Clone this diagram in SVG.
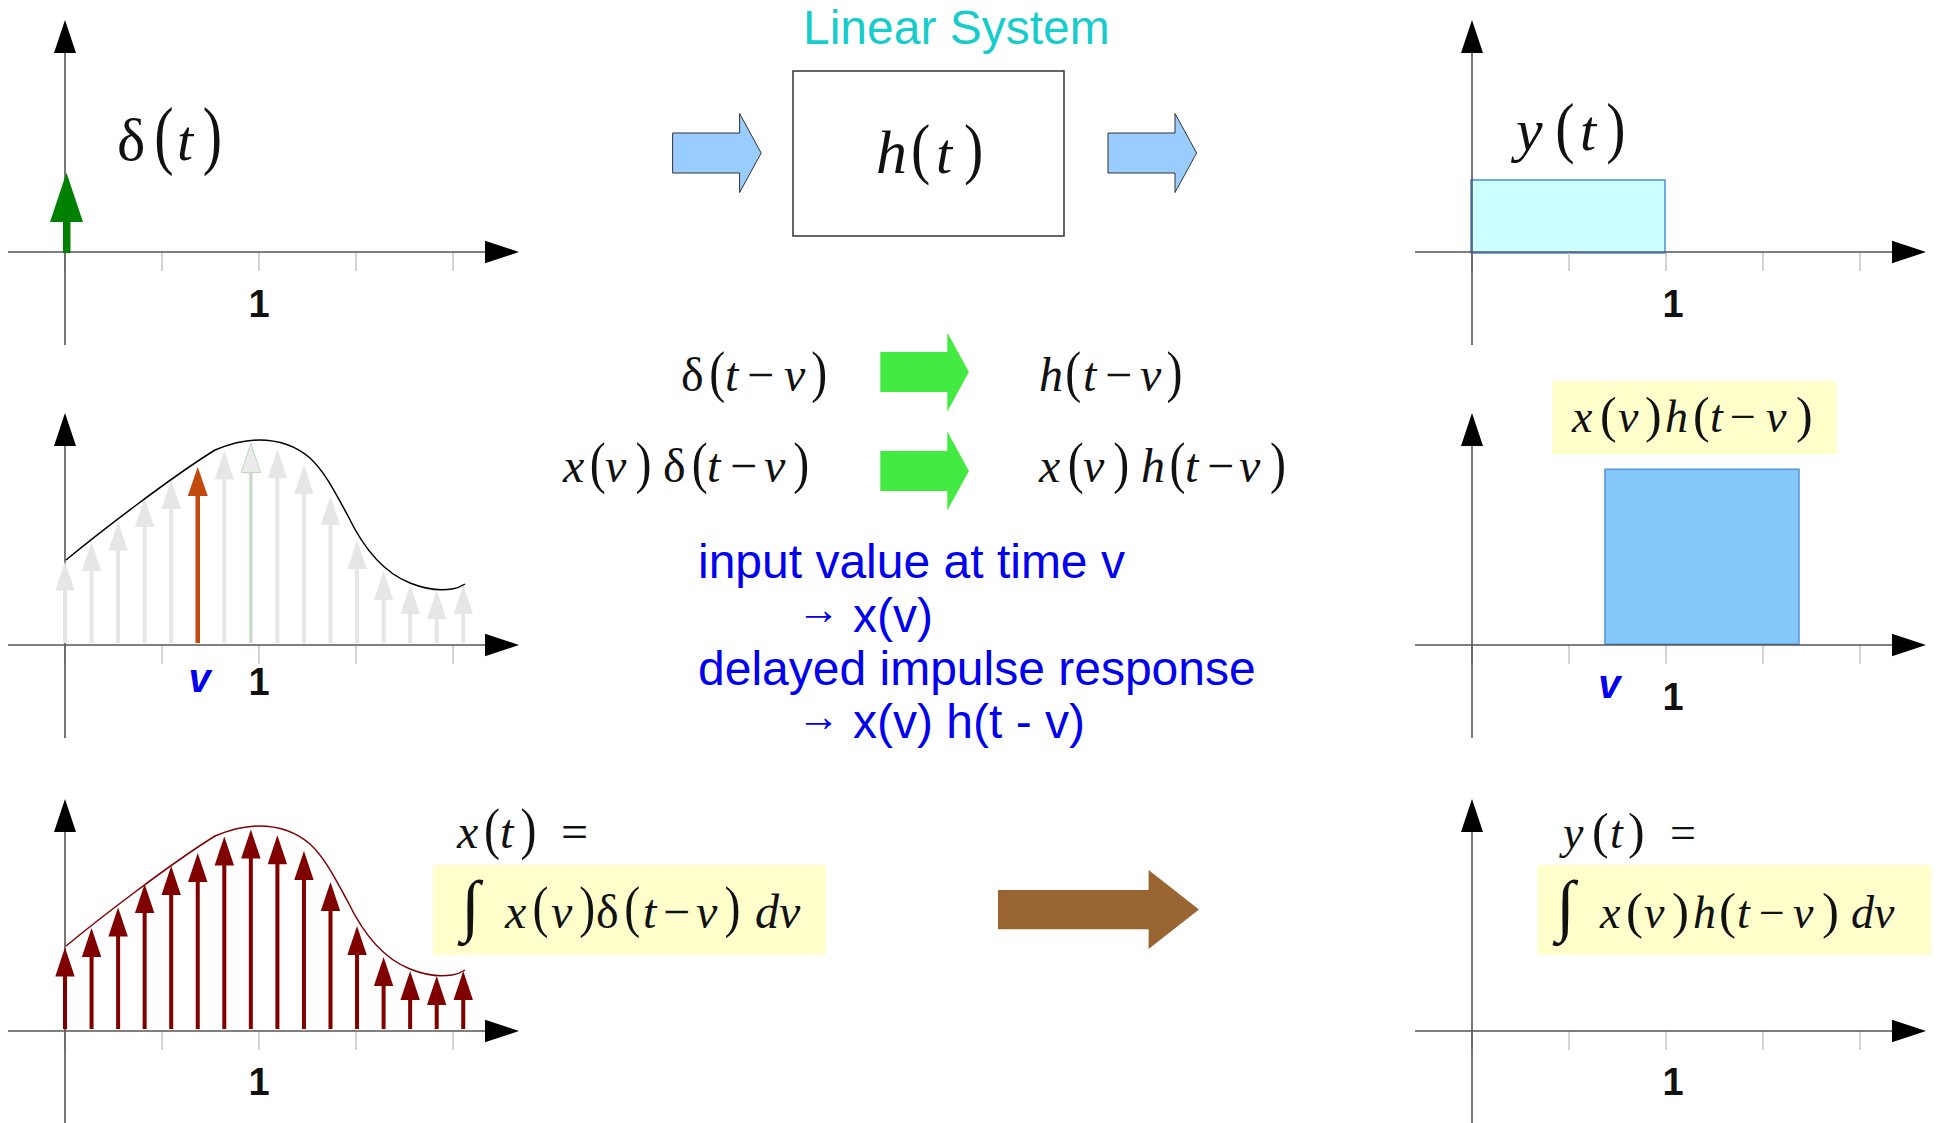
<svg xmlns="http://www.w3.org/2000/svg" xmlns:xlink="http://www.w3.org/1999/xlink" width="1939" height="1123" viewBox="0 0 1939 1123">
<style>
.ax{stroke:#555;stroke-width:1.6;fill:none}
.tk{stroke:#c8c8c8;stroke-width:1.6}
.ah{fill:#000}
.num{font-family:"Liberation Sans",Arial,sans-serif;font-weight:bold;font-size:38px;fill:#111;text-anchor:middle}
.vl{font-family:"Liberation Sans",Arial,sans-serif;font-weight:bold;font-style:italic;font-size:40px;fill:#0000ee;text-anchor:middle}
.m{font-family:"Liberation Serif","Times New Roman",serif;fill:#111}
.i{font-style:italic}
.blue{font-family:"Liberation Sans",Arial,sans-serif;font-size:48px;fill:#0000ee}
.ybox{fill:#ffffcc}
</style>
<defs>
  <g id="axes">
    <line class="tk" x1="0" y1="0" x2="0" y2="19"/>
    <line class="tk" x1="97" y1="0" x2="97" y2="19"/>
    <line class="tk" x1="194" y1="0" x2="194" y2="19"/>
    <line class="tk" x1="291" y1="0" x2="291" y2="19"/>
    <line class="tk" x1="388" y1="0" x2="388" y2="19"/>
    <line class="ax" x1="-57" y1="0" x2="422" y2="0"/>
    <polygon class="ah" points="420,-11.3 454,0 420,11.3"/>
    <line class="ax" x1="0" y1="93" x2="0" y2="-201"/>
    <polygon class="ah" points="-11,-199 0,-232 11,-199"/>
  </g>
  <path id="hd" stroke="none" d="M-9.7,29 L0,0 L9.7,29 Z"/>
  <path id="bar" d="M0,-20 H67 V-39.5 L88.6,0 L67,39.5 V20 H0 Z"/>
  <path id="curve" fill="none" stroke-width="1.5" d="M66,560 C100,532 170,478 215,450 C232,443 245,440 259,440 C280,440 296,446 310,458 C325,472 335,492 348,516 C362,545 382,572 410,583 C425,589 440,591 452,589 C458,588 462,586 465,584"/>
  <g id="spikes">
    <path fill="none" stroke-width="4" d="M65,643V589.5 M91.55,643V570 M118.1,643V549.5 M144.65,643V526 M171.2,643V508 M197.75,643V495 M224.3,643V478.5 M250.85,643V471.5 M277.4,643V477.3 M303.95,643V493 M330.5,643V524 M357.05,643V568 M383.6,643V599 M410.15,643V613 M436.7,643V618 M463.25,643V613"/>
    <use xlink:href="#hd" x="65" y="561.5"/>
    <use xlink:href="#hd" x="91.55" y="542"/>
    <use xlink:href="#hd" x="118.1" y="521.5"/>
    <use xlink:href="#hd" x="144.65" y="498"/>
    <use xlink:href="#hd" x="171.2" y="480"/>
    <use xlink:href="#hd" x="197.75" y="467"/>
    <use xlink:href="#hd" x="224.3" y="450.5"/>
    <use xlink:href="#hd" x="250.85" y="443.5"/>
    <use xlink:href="#hd" x="277.4" y="449.3"/>
    <use xlink:href="#hd" x="303.95" y="465"/>
    <use xlink:href="#hd" x="330.5" y="496"/>
    <use xlink:href="#hd" x="357.05" y="540"/>
    <use xlink:href="#hd" x="383.6" y="571"/>
    <use xlink:href="#hd" x="410.15" y="585"/>
    <use xlink:href="#hd" x="436.7" y="590"/>
    <use xlink:href="#hd" x="463.25" y="585"/>
  </g>
</defs>
<rect width="1939" height="1123" fill="#fff"/>

<g id="title">
  <text x="803" y="44" font-family="Liberation Sans, Arial, sans-serif" font-size="48" fill="#19cccc">Linear System</text>
</g>

<!-- Row 1 left: impulse -->
<g id="plot-impulse">
  <use xlink:href="#axes" x="65" y="252"/>
  <rect x="63" y="221" width="7.5" height="32" fill="#008000"/>
  <polygon points="50,222 66.5,172.7 83,222" fill="#008000"/>
  <text class="m" y="160"><tspan x="117" font-size="60">δ</tspan><tspan x="177" class="i" font-size="58">t</tspan></text>
  <text class="m" font-size="58" transform="translate(154.2,160) scale(1,1.295)">(</text>
  <text class="m" font-size="58" transform="translate(202.8,160) scale(1,1.295)">)</text>
  <text class="num" x="259" y="317">1</text>
</g>

<!-- System box -->
<g id="system">
  <rect x="793" y="71" width="271" height="165" fill="#fff" stroke="#333" stroke-width="1.5"/>
  <text class="m" y="173"><tspan x="876" class="i" font-size="62">h</tspan><tspan x="936" class="i" font-size="58">t</tspan></text>
  <text class="m" font-size="58" transform="translate(911,171) scale(1,1.17)">(</text>
  <text class="m" font-size="58" transform="translate(963.9,171) scale(1,1.17)">)</text>
</g>

<!-- Row 1 right: response -->
<g id="plot-response">
  <rect x="1471" y="180" width="194" height="73" fill="#ccffff" stroke="#4a90d9" stroke-width="1.5"/>
  <use xlink:href="#axes" x="1472" y="252"/>
  <text class="m" y="150"><tspan x="1516" class="i" font-size="60">y</tspan><tspan x="1580" class="i" font-size="58">t</tspan></text>
  <text class="m" font-size="58" transform="translate(1555.2,150) scale(1,1.17)">(</text>
  <text class="m" font-size="58" transform="translate(1606.3,150) scale(1,1.17)">)</text>
  <text class="num" x="1673" y="317">1</text>
</g>

<!-- Row 2 left: sampled input -->
<g id="plot-input-sample">
  <use xlink:href="#axes" x="65" y="645"/>
  <use xlink:href="#spikes" fill="#e6e6e6" stroke="#e6e6e6"/>
  <line x1="250.85" y1="643" x2="250.85" y2="471.5" stroke="#c3dcc3" stroke-width="2.5"/>
  <polygon points="241.15,472.5 250.85,443.5 260.55,472.5" fill="#ebebeb" stroke="#b5dcb5" stroke-width="1"/>
  <line x1="197.75" y1="643" x2="197.75" y2="495" stroke="#c24a0e" stroke-width="4.5"/>
  <polygon points="187.75,496 197.75,467 207.75,496" fill="#c24a0e"/>
  <use xlink:href="#curve" stroke="#000"/>
  <text class="vl" x="199.5" y="691.7">v</text>
  <text class="num" x="259" y="695">1</text>
</g>

<!-- Middle mapping text -->
<g id="mapping">
  <g font-size="48">
    <text class="m" y="390.7"><tspan x="681">δ</tspan><tspan x="725" class="i">t</tspan><tspan x="747">−</tspan><tspan x="784" class="i">v</tspan></text>
    <text class="m" transform="translate(709.3,390.7) scale(1,1.185)">(</text>
    <text class="m" transform="translate(811.2,390.7) scale(1,1.185)">)</text>
    <text class="m" y="390.7"><tspan x="1039" class="i">h</tspan><tspan x="1083" class="i">t</tspan><tspan x="1105">−</tspan><tspan x="1140" class="i">v</tspan></text>
    <text class="m" transform="translate(1065.2,390.7) scale(1,1.185)">(</text>
    <text class="m" transform="translate(1166.6,390.7) scale(1,1.185)">)</text>
    <text class="m" y="481.7"><tspan x="563" class="i">x</tspan><tspan x="605" class="i">v</tspan><tspan x="663">δ</tspan><tspan x="707" class="i">t</tspan><tspan x="730">−</tspan><tspan x="764" class="i">v</tspan></text>
    <text class="m" transform="translate(589.7,481.7) scale(1,1.17)">(</text>
    <text class="m" transform="translate(635.6,481.7) scale(1,1.17)">)</text>
    <text class="m" transform="translate(691.7,481.7) scale(1,1.17)">(</text>
    <text class="m" transform="translate(793.3,481.7) scale(1,1.17)">)</text>
    <text class="m" y="481.7"><tspan x="1039" class="i">x</tspan><tspan x="1083" class="i">v</tspan><tspan x="1141" class="i">h</tspan><tspan x="1185" class="i">t</tspan><tspan x="1207">−</tspan><tspan x="1239" class="i">v</tspan></text>
    <text class="m" transform="translate(1067.7,481.7) scale(1,1.17)">(</text>
    <text class="m" transform="translate(1113.2,481.7) scale(1,1.17)">)</text>
    <text class="m" transform="translate(1169.5,481.7) scale(1,1.17)">(</text>
    <text class="m" transform="translate(1269.9,481.7) scale(1,1.17)">)</text>
  </g>
  <text class="blue" x="698" y="578.3">input value at time v</text>
  <text class="blue"><tspan x="797" y="624" font-size="43">→</tspan><tspan x="853" y="631.7">x(v)</tspan></text>
  <text class="blue" x="698" y="685">delayed impulse response</text>
  <text class="blue"><tspan x="797" y="730.6" font-size="43">→</tspan><tspan x="853" y="738.3">x(v) h(t - v)</tspan></text>
</g>

<!-- Row 2 right: delayed response -->
<g id="plot-delayed-response">
  <rect class="ybox" x="1552" y="381" width="285" height="73"/>
  <text class="m" y="431.7"><tspan x="1572" class="i" font-size="46">x</tspan><tspan x="1600" font-size="50">(</tspan><tspan x="1618" class="i" font-size="46">v</tspan><tspan x="1645" font-size="50">)</tspan><tspan x="1665" class="i" font-size="46">h</tspan><tspan x="1693" font-size="50">(</tspan><tspan x="1710" class="i" font-size="46">t</tspan><tspan x="1730" font-size="46">−</tspan><tspan x="1766" class="i" font-size="46">v</tspan><tspan x="1796" font-size="50">)</tspan></text>
  <rect x="1605" y="469.3" width="194" height="175" fill="#84c7fa" stroke="#4f94dc" stroke-width="1.5"/>
  <use xlink:href="#axes" x="1472" y="645"/>
  <text class="vl" x="1609.4" y="698.3">v</text>
  <text class="num" x="1673" y="710">1</text>
</g>

<!-- Row 3 left: input as sum of impulses -->
<g id="plot-input-sum">
  <use xlink:href="#axes" x="65" y="1031"/>
  <use xlink:href="#spikes" transform="translate(0,386)" fill="#800000" stroke="#800000"/>
  <use xlink:href="#curve" transform="translate(0,386)" stroke="#800000"/>
  <text class="num" x="259" y="1095">1</text>
  <rect class="ybox" x="433" y="865" width="393" height="90"/>
  <g font-size="48">
    <text class="m" y="848.3"><tspan x="457" class="i">x</tspan><tspan x="500" class="i">t</tspan><tspan x="561">=</tspan></text>
    <text class="m" transform="translate(484,848.3) scale(1,1.185)">(</text>
    <text class="m" transform="translate(520.6,848.3) scale(1,1.185)">)</text>
    <text class="m" y="928.3"><tspan x="461" font-size="68">∫</tspan><tspan x="505" class="i">x</tspan><tspan x="551" class="i">v</tspan><tspan x="596">δ</tspan><tspan x="643" class="i">t</tspan><tspan x="663">−</tspan><tspan x="696" class="i">v</tspan><tspan x="755" class="i">dv</tspan></text>
    <text class="m" transform="translate(532.5,926.3) scale(1,1.185)">(</text>
    <text class="m" transform="translate(579.3,926.3) scale(1,1.185)">)</text>
    <text class="m" transform="translate(624.3,926.3) scale(1,1.185)">(</text>
    <text class="m" transform="translate(724.6,926.3) scale(1,1.185)">)</text>
  </g>
</g>

<!-- Row 3 right: output as convolution -->
<g id="plot-output-sum">
  <use xlink:href="#axes" x="1472" y="1031"/>
  <text class="num" x="1673" y="1095">1</text>
  <text class="m" y="848.3"><tspan x="1563" class="i" font-size="46">y</tspan><tspan x="1592" font-size="50">(</tspan><tspan x="1610" class="i" font-size="46">t</tspan><tspan x="1628" font-size="50">)</tspan><tspan x="1670" font-size="46">=</tspan></text>
  <rect class="ybox" x="1537.5" y="865" width="393.5" height="90"/>
  <text class="m" y="928.3"><tspan x="1556" font-size="68">∫</tspan><tspan x="1600" class="i" font-size="46">x</tspan><tspan x="1626" font-size="51">(</tspan><tspan x="1644" class="i" font-size="46">v</tspan><tspan x="1672" font-size="51">)</tspan><tspan x="1693" class="i" font-size="46">h</tspan><tspan x="1719" font-size="51">(</tspan><tspan x="1737" class="i" font-size="46">t</tspan><tspan x="1759" font-size="46">−</tspan><tspan x="1793" class="i" font-size="46">v</tspan><tspan x="1822" font-size="51">)</tspan><tspan x="1851" class="i" font-size="46">dv</tspan></text>
</g>

<g id="connectors">
  <use xlink:href="#bar" x="672.6" y="153" fill="#99ccff" stroke="#333" stroke-width="1"/>
  <use xlink:href="#bar" x="1108" y="153" fill="#99ccff" stroke="#333" stroke-width="1"/>
  <use xlink:href="#bar" x="880.3" y="372" fill="#42ea42"/>
  <use xlink:href="#bar" x="880.3" y="471" fill="#42ea42"/>
  <path d="M998,890 H1148.6 V870 L1199,909.5 L1148.6,949 V929.3 H998 Z" fill="#996633"/>
</g>
</svg>
